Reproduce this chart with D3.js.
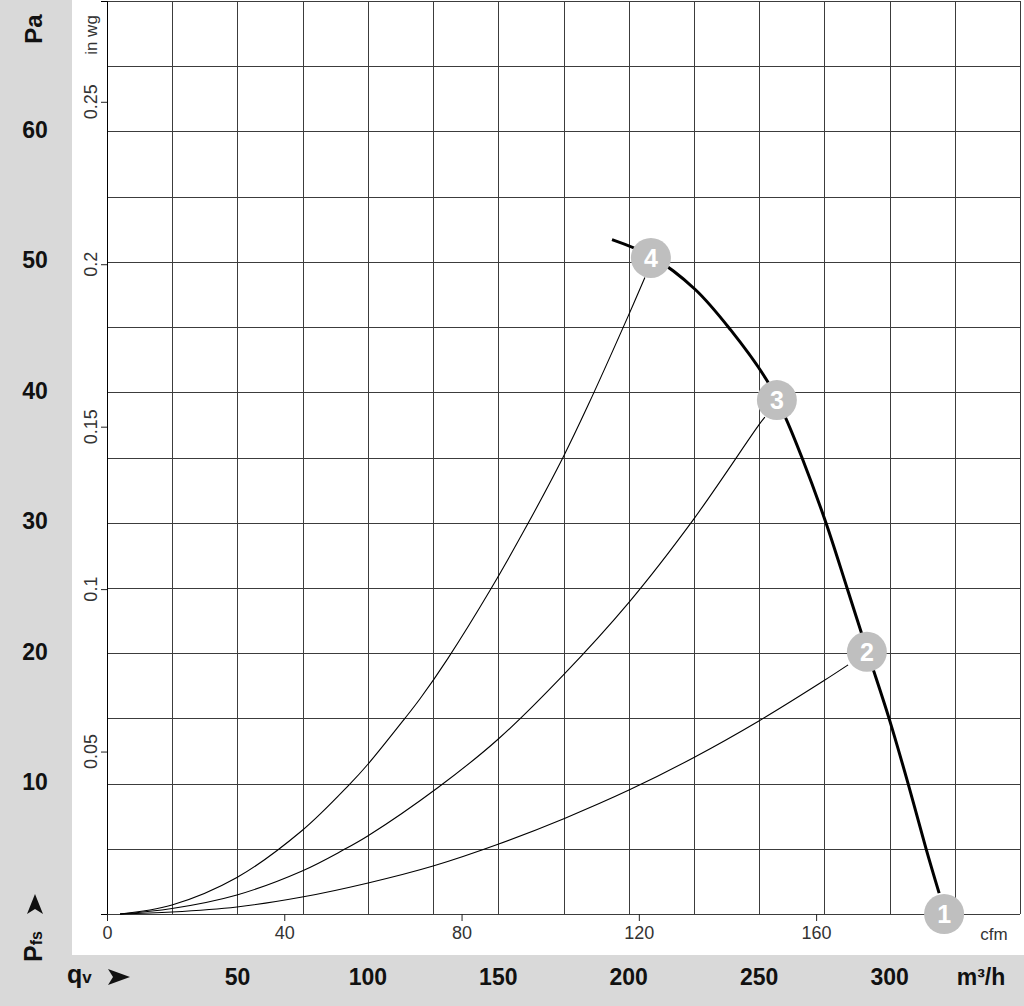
<!DOCTYPE html>
<html>
<head>
<meta charset="utf-8">
<script src="https://cdn.jsdelivr.net/npm/d3@7"></script>
<style>
  html, body { margin: 0; padding: 0; background: #fff; }
  svg { display: block; font-family: "Liberation Sans", Arial, Helvetica, sans-serif; }
</style>
</head>
<body>
<div id="chart"></div>
<script>
// 数据：流量 m³/h，静压 Pa
const paTicks = [10, 20, 30, 40, 50, 60];
const inwgTicks = [0.05, 0.1, 0.15, 0.2, 0.25];
const m3hTicks = [50, 100, 150, 200, 250, 300];
const cfmTicks = [0, 40, 80, 120, 160];

// 风机特性曲线
const fanCurve = [
  [193.6, 51.7], [208.9, 50.4], [225.4, 47.9], [239.0, 44.8], [253.0, 40.9],
  [259.8, 38.2], [266.4, 35.0], [275.6, 30.0], [283.7, 25.0], [291.7, 20.0],
  [299.8, 15.0], [307.1, 10.0], [314.0, 5.0], [319.0, 1.6]
];

// 系统阻力曲线 2, 3, 4
const system2 = [
  [5, 0], [24.9, 0.15], [49.8, 0.54], [74.8, 1.3], [100.1, 2.38], [125.0, 3.68],
  [149.9, 5.35], [175.6, 7.35], [200.1, 9.5], [225.0, 12.0], [249.9, 14.8],
  [274.9, 17.9], [284.1, 19.1]
];
const system3 = [
  [5, 0], [24.9, 0.42], [49.8, 1.46], [74.8, 3.3], [90.5, 4.9], [100.1, 6.0],
  [126.9, 9.7], [149.9, 13.4], [174.8, 18.3], [200.1, 23.9], [225.0, 30.3],
  [249.9, 37.5], [252.2, 38.1]
];
const system4 = [
  [5, 0], [24.9, 0.69], [49.8, 2.8], [74.8, 6.4], [92.8, 9.9], [100.1, 11.5],
  [114.2, 15.0], [120.0, 16.5], [130.7, 19.6], [146.8, 24.8], [161.0, 29.8],
  [174.8, 35.0], [184.4, 39.0], [199.7, 45.8], [206.2, 48.8]
];

// 工作点标记
const markerLabels = ["1", "2", "3", "4"];
const markerFlow = [320.9, 291.3, 256.8, 208.5];
const markerPressure = [0, 20.1, 39.4, 50.3];

const W = 1024, H = 1006;
const margin = { left: 107, top: 1, right: 4, bottom: 92 };
const plotW = W - margin.left - margin.right;
const plotH = H - margin.top - margin.bottom;
const CFM_TO_M3H = 1.699;

const svg = d3.select("#chart").append("svg")
  .attr("width", W)
  .attr("height", H);

// 灰色背景条
svg.append("rect").attr("x", 0).attr("y", 0).attr("width", W).attr("height", H).attr("fill", "#d9d9d9");
svg.append("rect").attr("x", 72).attr("y", 0).attr("width", W - 72).attr("height", 955).attr("fill", "#fff");

const x = d3.scaleLinear().domain([0, 350]).range([margin.left, margin.left + plotW]);
const y = d3.scaleLinear().domain([0, 70]).range([margin.top + plotH, margin.top]);
const xCfm = d3.scaleLinear().domain([0, 350 / CFM_TO_M3H]).range(x.range());
const yInwg = d3.scaleLinear().domain([0, 70 / 249.089]).range(y.range());

// 网格
const grid = svg.append("g").attr("stroke", "#3c3c3c").attr("stroke-width", 1).attr("shape-rendering", "crispEdges");
grid.selectAll("line.v")
  .data(d3.range(0, 351, 25))
  .join("line")
  .attr("class", "v")
  .attr("x1", d => Math.round(x(d)) + 0.5).attr("x2", d => Math.round(x(d)) + 0.5)
  .attr("y1", y(70)).attr("y2", y(0));
grid.selectAll("line.h")
  .data(d3.range(0, 71, 5))
  .join("line")
  .attr("class", "h")
  .attr("x1", x(0)).attr("x2", x(350))
  .attr("y1", d => Math.round(y(d)) + 0.5).attr("y2", d => Math.round(y(d)) + 0.5);

// 左侧 in wg 轴
const inwgAxis = svg.append("g")
  .attr("transform", `translate(${margin.left},0)`)
  .call(d3.axisLeft(yInwg).tickValues(inwgTicks).tickSize(6).tickFormat(d => String(d)));
inwgAxis.select(".domain").attr("stroke", "#000");
inwgAxis.selectAll(".tick line").attr("stroke", "#222");
inwgAxis.selectAll(".tick text").remove();
svg.append("g").selectAll("text")
  .data(inwgTicks)
  .join("text")
  .attr("transform", d => `translate(97,${yInwg(d)}) rotate(-90)`)
  .attr("text-anchor", "middle")
  .attr("font-size", 18)
  .attr("fill", "#333")
  .text(d => String(d));
svg.append("text")
  .attr("transform", "translate(97,35) rotate(-90)")
  .attr("text-anchor", "middle")
  .attr("font-size", 17)
  .attr("fill", "#333")
  .text("in wg");

// 底部 cfm 轴
const cfmAxis = svg.append("g")
  .attr("transform", `translate(0,${y(0)})`)
  .call(d3.axisBottom(xCfm).tickValues(cfmTicks).tickSize(7).tickFormat(d => d));
cfmAxis.select(".domain").remove();
cfmAxis.selectAll(".tick line").attr("stroke", "#222");
cfmAxis.selectAll(".tick text")
  .attr("y", 12)
  .attr("font-size", 18)
  .attr("font-family", "Liberation Sans, Arial, sans-serif")
  .attr("fill", "#333");
svg.append("text")
  .attr("x", 994).attr("y", 940)
  .attr("text-anchor", "middle")
  .attr("font-size", 17)
  .attr("fill", "#333")
  .text("cfm");

// Pa 刻度
svg.append("g").selectAll("text")
  .data(paTicks)
  .join("text")
  .attr("x", 35)
  .attr("y", d => y(d) + 6.5)
  .attr("text-anchor", "middle")
  .attr("font-size", 23)
  .attr("font-weight", "bold")
  .attr("fill", "#111")
  .text(d => d);
svg.append("text")
  .attr("transform", "translate(42,29) rotate(-90)")
  .attr("text-anchor", "middle")
  .attr("font-size", 24)
  .attr("font-weight", "bold")
  .attr("fill", "#111")
  .text("Pa");

// Pfs 标题和箭头
const pfs = svg.append("text")
  .attr("transform", "translate(42,962) rotate(-90)")
  .attr("font-weight", "bold")
  .attr("fill", "#111");
pfs.append("tspan").attr("font-size", 25).text("P");
pfs.append("tspan").attr("font-size", 16).text("fs");
svg.append("path")
  .attr("d", "M0,-8 L20,0 L0,8 L5,0 Z")
  .attr("transform", "translate(35,914) rotate(-90)")
  .attr("fill", "#111");

// m³/h 刻度
svg.append("g").selectAll("text")
  .data(m3hTicks)
  .join("text")
  .attr("x", d => x(d))
  .attr("y", 985)
  .attr("text-anchor", "middle")
  .attr("font-size", 23)
  .attr("font-weight", "bold")
  .attr("fill", "#111")
  .text(d => d);
svg.append("text")
  .attr("x", 981).attr("y", 985)
  .attr("text-anchor", "middle")
  .attr("font-size", 23)
  .attr("font-weight", "bold")
  .attr("fill", "#111")
  .text("m³/h");
const qv = svg.append("text")
  .attr("x", 67).attr("y", 983)
  .attr("font-weight", "bold")
  .attr("fill", "#111");
qv.append("tspan").attr("font-size", 25).text("q");
qv.append("tspan").attr("font-size", 17).text("v");
svg.append("path")
  .attr("d", "M0,-8 L22,0 L0,8 L5,0 Z")
  .attr("transform", "translate(108,977)")
  .attr("fill", "#111");

// 曲线
const line = d3.line()
  .x(d => x(d[0]))
  .y(d => y(d[1]))
  .curve(d3.curveCatmullRom.alpha(0.5));

const curves = svg.append("g").attr("fill", "none").attr("stroke", "#000");
[system2, system3, system4].forEach(s => {
  curves.append("path").attr("d", line(s)).attr("stroke-width", 1.1);
});
curves.append("path").attr("d", line(fanCurve)).attr("stroke-width", 3);

// 工作点
const markers = svg.append("g").selectAll("g")
  .data(markerLabels)
  .join("g")
  .attr("transform", (d, i) => `translate(${x(markerFlow[i])},${y(markerPressure[i])})`);
markers.append("circle")
  .attr("r", 20)
  .attr("fill", "#bfbfbf");
markers.append("text")
  .attr("text-anchor", "middle")
  .attr("y", 9)
  .attr("font-size", 25)
  .attr("font-weight", "bold")
  .attr("fill", "#fff")
  .text(d => d);
</script>
</body>
</html>
